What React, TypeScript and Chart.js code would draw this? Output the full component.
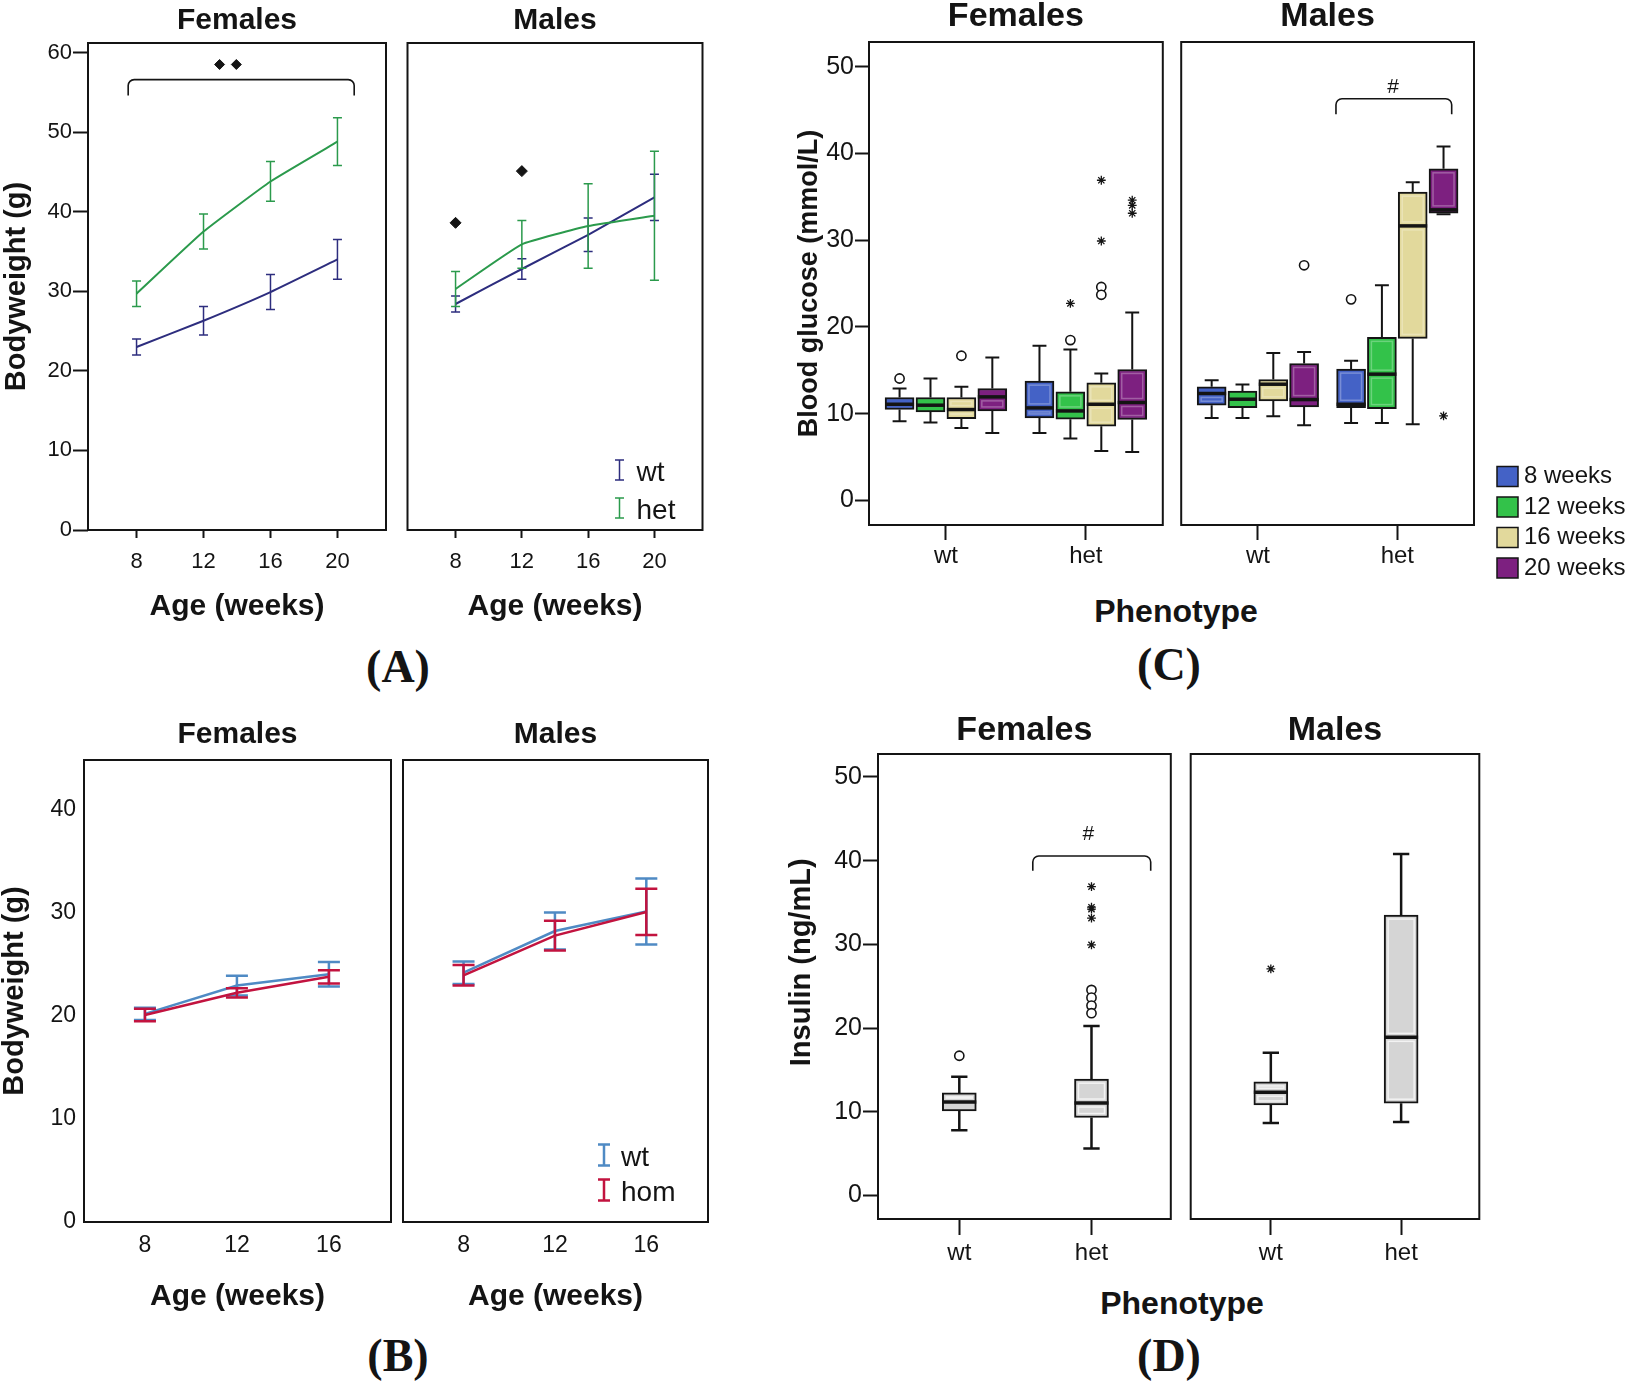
import React, { useEffect, useRef } from 'react';
import { Chart, registerables } from 'chart.js';

Chart.register(...registerables);

const SANS = "'Liberation Sans', Arial, Helvetica, sans-serif";
const SERIF = "'Liberation Serif', 'Times New Roman', Times, serif";
const INK = '#141414';
Chart.defaults.font.family = SANS;
Chart.defaults.color = INK;

// ---------------- (A) bodyweight wt vs het ----------------
const weeksA = [8, 12, 16, 20];
const bodyTicksA = [0, 10, 20, 30, 40, 50, 60];
const femWtA = [23.0, 26.3, 29.9, 34.0];
const femWtErrA = [1.0, 1.8, 2.2, 2.5];
const femHetA = [29.7, 37.5, 43.8, 48.8];
const femHetErrA = [1.6, 2.2, 2.5, 3.0];
const malWtA = [28.4, 32.8, 37.1, 41.8];
const malWtErrA = [1.0, 1.3, 2.1, 2.9];
const malHetA = [30.3, 35.9, 38.2, 39.5];
const malHetErrA = [2.2, 3.0, 5.3, 8.1];
const femMarkXA = [12.96, 13.96];
const femMarkYA = [58.5, 58.5];
const malMarkXA = [8, 12];
const malMarkYA = [38.6, 45.1];
const femBracketA = [7.5, 21.0, 56.6, 54.6]; // x1, x2, y, y of the ends
const seriesA = ['wt', 'het'];

// ---------------- (B) bodyweight wt vs hom ----------------
const weeksB = [8, 12, 16];
const bodyTicksB = [0, 10, 20, 30, 40];
const femWtB = [20.2, 22.95, 24.05];
const femWtErrB = [0.6, 0.95, 1.2];
const femHomB = [20.1, 22.25, 23.8];
const femHomErrB = [0.6, 0.45, 0.65];
const malWtB = [24.2, 28.25, 30.15];
const malWtErrB = [1.1, 1.8, 3.2];
const malHomB = [23.95, 27.8, 30.1];
const malHomErrB = [1.0, 1.45, 2.25];
const seriesB = ['wt', 'hom'];

// ---------------- (C) blood glucose ----------------
const phenotypes = ['wt', 'het'];
const weekNames = ['8 weeks', '12 weeks', '16 weeks', '20 weeks'];
const glucoseTicks = [0, 10, 20, 30, 40, 50];
// [lower whisker, Q1, median, Q3, upper whisker] for wt, then het
const gluFem8 = [[9.12, 10.47, 11.08, 11.86, 12.9], [7.77, 9.5, 10.66, 13.74, 17.82]];
const gluFem12 = [[8.97, 10.2, 10.97, 11.86, 14.05], [7.12, 9.35, 10.31, 12.51, 17.4]];
const gluFem16 = [[8.35, 9.43, 10.47, 11.86, 13.1], [5.7, 8.55, 11.08, 13.55, 14.63]];
const gluFem20 = [[7.77, 10.31, 11.93, 12.9, 16.47], [5.58, 9.32, 11.28, 15.09, 21.65]];
const gluMal8 = [[9.5, 10.97, 12.32, 13.09, 13.86], [8.93, 10.7, 11.08, 15.13, 16.09]];
const gluMal12 = [[9.5, 10.7, 11.66, 12.59, 13.36], [8.93, 10.58, 14.55, 18.79, 24.79]];
const gluMal16 = [[9.7, 11.47, 13.39, 13.93, 17.0], [8.78, 18.67, 31.64, 35.53, 36.68]];
const gluMal20 = [[8.66, 10.78, 11.62, 15.78, 17.09], [32.99, 33.1, 33.49, 38.22, 40.8]];
// outliers: [phenotype index, week index, value]
const gluFemCircles = [[0, 0, 14.05], [0, 2, 16.67], [1, 1, 18.48], [1, 2, 24.6], [1, 2, 23.7]];
const gluFemStars = [[1, 1, 22.7], [1, 2, 29.9], [1, 2, 36.9], [1, 3, 34.6], [1, 3, 34.0], [1, 3, 33.1]];
const gluMalCircles = [[0, 3, 27.1], [1, 0, 23.17]];
const gluMalStars = [[1, 3, 9.74]];
const gluMalBracket = [0.56, 1.39, 46.3, 44.5];
const gluMalHash = [0.97, 47.6];

// ---------------- (D) insulin ----------------
const insulinTicks = [0, 10, 20, 30, 40, 50];
const insFem = [[7.8, 10.1, 11.16, 12.26, 14.2], [5.63, 9.32, 11.05, 13.9, 20.26]];
const insMal = [[8.68, 10.82, 12.34, 13.57, 17.07], [8.8, 11.03, 18.9, 33.5, 40.8]];
// outliers: [phenotype index, value]
const insFemCircles = [[0, 16.7], [1, 24.56], [1, 23.64], [1, 22.69], [1, 21.78]];
const insFemStars = [[1, 36.9], [1, 34.44], [1, 34.2], [1, 33.13], [1, 29.94]];
const insMalStars = [[0, 27.07]];
const insFemBracket = [0.556, 1.448, 40.56, 38.8];
const insFemHash = [0.977, 43.2];

// ---------------- styles ----------------
const A_WT = '#2d2d7e';
const A_HET = '#2b9a4c';
const B_WT = '#4f8ac4';
const B_HOM = '#c2133f';
const WEEK_COLORS = ['#4462c6', '#33c24a', '#e2d99c', '#7d2080'];
const BOX_STEP_C = 0.221;
const NBSP = '\u00A0';

// ---------------- plugins ----------------
const framePlugin = {
  id: 'frame',
  afterDraw(chart: any) {
    const { ctx, chartArea: a } = chart;
    ctx.save();
    ctx.strokeStyle = INK;
    ctx.lineWidth = 2;
    ctx.strokeRect(a.left, a.top, a.right - a.left, a.bottom - a.top);
    ctx.restore();
  },
};

function errorBarPlugin(capHalf: number, lw: number) {
  return {
    id: 'errorBars',
    afterDatasetDraw(chart: any, args: any) {
      const ds = chart.data.datasets[args.index];
      if (!ds.errors) return;
      const { ctx } = chart;
      const ys = chart.scales.y;
      ctx.save();
      ctx.strokeStyle = ds.borderColor;
      ctx.lineWidth = lw;
      args.meta.data.forEach((pt: any, j: number) => {
        const v = ds.data[j].y;
        const e = ds.errors[j];
        const x = pt.x;
        const t = ys.getPixelForValue(v + e);
        const b = ys.getPixelForValue(v - e);
        ctx.beginPath();
        ctx.moveTo(x, t);
        ctx.lineTo(x, b);
        ctx.moveTo(x - capHalf, t);
        ctx.lineTo(x + capHalf, t);
        ctx.moveTo(x - capHalf, b);
        ctx.lineTo(x + capHalf, b);
        ctx.stroke();
      });
      ctx.restore();
    },
  };
}

function bracketPlugin(b: number[], hash?: number[]) {
  return {
    id: 'bracket',
    afterDatasetsDraw(chart: any) {
      const { ctx } = chart;
      const xs = chart.scales.x;
      const ys = chart.scales.y;
      const x1 = xs.getPixelForValue(b[0]);
      const x2 = xs.getPixelForValue(b[1]);
      const yt = ys.getPixelForValue(b[2]);
      const ye = ys.getPixelForValue(b[3]);
      const r = 6;
      ctx.save();
      ctx.strokeStyle = INK;
      ctx.lineWidth = 1.6;
      ctx.beginPath();
      ctx.moveTo(x1, ye);
      ctx.arcTo(x1, yt, x1 + r, yt, r);
      ctx.arcTo(x2, yt, x2, yt + r, r);
      ctx.lineTo(x2, ye);
      ctx.stroke();
      if (hash) {
        ctx.fillStyle = INK;
        ctx.font = `21px ${SANS}`;
        ctx.textAlign = 'center';
        ctx.textBaseline = 'middle';
        ctx.fillText('#', xs.getPixelForValue(hash[0]), ys.getPixelForValue(hash[1]));
      }
      ctx.restore();
    },
  };
}

function seriesLegendPlugin(labels: string[], colors: string[], o: any) {
  return {
    id: 'seriesLegend',
    afterDraw(chart: any) {
      const { ctx, chartArea: a } = chart;
      ctx.save();
      labels.forEach((lab, k) => {
        const cy = a.bottom + o.rows[k];
        const cx = a.left + o.iconDx;
        const iy = cy - 3;
        ctx.strokeStyle = colors[k];
        ctx.lineWidth = o.lw;
        ctx.beginPath();
        ctx.moveTo(cx, iy - o.iconH / 2);
        ctx.lineTo(cx, iy + o.iconH / 2);
        ctx.moveTo(cx - o.cap, iy - o.iconH / 2);
        ctx.lineTo(cx + o.cap, iy - o.iconH / 2);
        ctx.moveTo(cx - o.cap, iy + o.iconH / 2);
        ctx.lineTo(cx + o.cap, iy + o.iconH / 2);
        ctx.stroke();
        ctx.fillStyle = INK;
        ctx.font = `28px ${SANS}`;
        ctx.textAlign = 'left';
        ctx.textBaseline = 'middle';
        ctx.fillText(lab, a.left + o.textDx, cy);
      });
      ctx.restore();
    },
  };
}

const weekLegendPlugin = {
  id: 'weekLegend',
  afterDraw(chart: any) {
    const { ctx, chartArea: a } = chart;
    ctx.save();
    weekNames.forEach((name, w) => {
      const top = a.bottom - 58.5 + w * 30.5;
      const left = a.right + 23;
      ctx.fillStyle = WEEK_COLORS[w];
      ctx.fillRect(left, top, 21, 20);
      ctx.strokeStyle = INK;
      ctx.lineWidth = 1.5;
      ctx.strokeRect(left, top, 21, 20);
      ctx.fillStyle = INK;
      ctx.font = `24px ${SANS}`;
      ctx.textAlign = 'left';
      ctx.textBaseline = 'middle';
      ctx.fillText(name, left + 27, top + 10);
    });
    ctx.restore();
  },
};

const boxPlotPlugin = {
  id: 'boxWhiskers',
  beforeDatasetsDraw(chart: any) {
    const { ctx } = chart;
    const ys = chart.scales.y;
    chart.data.datasets.forEach((ds: any, i: number) => {
      if (!ds.boxStats) return;
      const meta = chart.getDatasetMeta(i);
      meta.data.forEach((bar: any, j: number) => {
        const s = ds.boxStats[j];
        const { x, width } = bar.getProps(['x', 'width'], true);
        const cap = width * 0.48;
        const lo = ys.getPixelForValue(s[0]);
        const q1 = ys.getPixelForValue(s[1]);
        const q3 = ys.getPixelForValue(s[3]);
        const hi = ys.getPixelForValue(s[4]);
        ctx.save();
        ctx.strokeStyle = INK;
        ctx.lineWidth = ds.whiskerWidth;
        ctx.beginPath();
        ctx.moveTo(x, q3);
        ctx.lineTo(x, hi);
        ctx.moveTo(x - cap / 2, hi);
        ctx.lineTo(x + cap / 2, hi);
        ctx.moveTo(x, q1);
        ctx.lineTo(x, lo);
        ctx.moveTo(x - cap / 2, lo);
        ctx.lineTo(x + cap / 2, lo);
        ctx.stroke();
        ctx.restore();
      });
    });
  },
  afterDatasetsDraw(chart: any) {
    const { ctx } = chart;
    const ys = chart.scales.y;
    chart.data.datasets.forEach((ds: any, i: number) => {
      if (!ds.boxStats) return;
      const meta = chart.getDatasetMeta(i);
      meta.data.forEach((bar: any, j: number) => {
        const s = ds.boxStats[j];
        const { x, width } = bar.getProps(['x', 'width'], true);
        const med = ys.getPixelForValue(s[2]);
        const q1 = ys.getPixelForValue(s[1]);
        const q3 = ys.getPixelForValue(s[3]);
        const inset = 4;
        const l = x - width / 2 + inset;
        const w = width - 2 * inset;
        ctx.save();
        ctx.strokeStyle = ds.innerLine;
        ctx.lineWidth = 1.5;
        if (med - q3 > 2 * inset + 1) ctx.strokeRect(l, q3 + inset, w, med - q3 - 2 * inset);
        if (q1 - med > 2 * inset + 1) ctx.strokeRect(l, med + inset, w, q1 - med - 2 * inset);
        ctx.strokeStyle = INK;
        ctx.lineWidth = 3.5;
        ctx.beginPath();
        ctx.moveTo(x - width / 2, med);
        ctx.lineTo(x + width / 2, med);
        ctx.stroke();
        ctx.restore();
      });
    });
  },
};

// ---------------- builders ----------------
function xAxis(o: any) {
  return {
    type: 'linear',
    min: o.min,
    max: o.max,
    offset: false,
    afterBuildTicks: (s: any) => {
      s.ticks = o.ticks.map((v: number) => ({ value: v }));
    },
    afterFit: (s: any) => {
      s.height = o.height;
    },
    grid: {
      display: o.tickLen > 0,
      drawOnChartArea: false,
      drawTicks: o.tickLen > 0,
      tickLength: o.tickLen,
      tickWidth: 2,
      tickColor: INK,
      offset: false,
    },
    border: { display: false },
    ticks: {
      autoSkip: false,
      maxRotation: 0,
      minRotation: 0,
      padding: o.pad,
      color: INK,
      font: { family: SANS, size: o.font },
      callback: (v: number) => (o.labels ? o.labels[v] ?? '' : String(v)),
    },
    title: o.title
      ? {
          display: true,
          text: o.title,
          color: INK,
          font: { family: SANS, size: 30, weight: 'bold', lineHeight: 1 },
          padding: { top: 0, bottom: o.titlePadBottom },
        }
      : { display: false },
  };
}

function yAxis(o: any) {
  const ax: any = {
    type: 'linear',
    min: o.min,
    max: o.max,
    display: o.show,
    afterBuildTicks: (s: any) => {
      s.ticks = o.ticks.map((v: number) => ({ value: v }));
    },
    grid: {
      display: o.tickLen > 0,
      drawOnChartArea: false,
      drawTicks: o.tickLen > 0,
      tickLength: o.tickLen,
      tickWidth: 2,
      tickColor: INK,
    },
    border: { display: false },
    ticks: {
      padding: o.pad,
      color: INK,
      font: { family: SANS, size: o.font },
      callback: (v: number) => String(v),
    },
    title: o.title
      ? {
          display: true,
          text: o.title,
          color: INK,
          font: { family: SANS, size: o.titleSize, weight: 'bold', lineHeight: 1 },
          padding: { top: o.titlePad, bottom: 0 },
        }
      : { display: false },
  };
  if (o.show) {
    ax.afterFit = (s: any) => {
      s.width = o.width;
    };
  }
  return ax;
}

function baseOptions(o: any) {
  return {
    responsive: false,
    animation: false,
    events: [],
    layout: { padding: { left: o.padL, right: o.padR, top: 0, bottom: 0 } },
    plugins: {
      legend: { display: false },
      tooltip: { enabled: false },
      title: {
        display: true,
        text: o.title,
        fullSize: false,
        color: INK,
        font: { family: SANS, size: o.titleSize, weight: 'bold', lineHeight: 1 },
        padding: { top: o.titlePad[0], bottom: o.titlePad[1] },
      },
    },
    scales: { x: o.x, y: o.y },
  };
}

function lineDs(label: string, xs: number[], ys: number[], errs: number[], color: string, width: number, order: number, tension: number) {
  return {
    type: 'line',
    label,
    data: xs.map((x, i) => ({ x, y: ys[i] })),
    errors: errs,
    borderColor: color,
    backgroundColor: color,
    borderWidth: width,
    pointRadius: 0,
    tension,
    order,
  };
}

function markerDs(xs: number[], ys: number[], r: number) {
  return {
    type: 'scatter',
    label: 'significance',
    data: xs.map((x, i) => ({ x, y: ys[i] })),
    pointStyle: 'rectRot',
    pointRadius: r,
    backgroundColor: INK,
    borderColor: INK,
    pointBackgroundColor: INK,
    pointBorderColor: INK,
    showLine: false,
    order: -1,
  };
}

function outlierDs(points: any[], style: string) {
  const circle = style === 'circle';
  return {
    type: 'scatter',
    label: style,
    data: points,
    pointStyle: style,
    pointRadius: circle ? 4.6 : 4.4,
    pointBorderWidth: circle ? 1.6 : 1.3,
    borderColor: INK,
    backgroundColor: circle ? '#ffffff' : INK,
    pointBorderColor: INK,
    pointBackgroundColor: circle ? '#ffffff' : INK,
    showLine: false,
    order: -1,
  };
}

function weekBoxDatasets(byWeek: number[][][]) {
  return byWeek.map((groups, w) => ({
    type: 'bar',
    label: weekNames[w],
    data: groups.map((s, g) => ({ x: g + (w - 1.5) * BOX_STEP_C, y: [s[1], s[3]] })),
    boxStats: groups,
    backgroundColor: WEEK_COLORS[w],
    borderColor: INK,
    borderWidth: 2,
    borderSkipped: false,
    barThickness: 29,
    grouped: false,
    innerLine: 'rgba(255,255,255,0.28)',
    whiskerWidth: 2,
    order: 1,
  }));
}

function grayBoxDataset(stats: number[][]) {
  return {
    type: 'bar',
    label: 'insulin',
    data: stats.map((s, g) => ({ x: g, y: [s[1], s[3]] })),
    boxStats: stats,
    backgroundColor: '#d5d5d5',
    borderColor: INK,
    borderWidth: 2,
    borderSkipped: false,
    barThickness: 34,
    grouped: false,
    innerLine: 'rgba(255,255,255,0.7)',
    whiskerWidth: 2.5,
    order: 1,
  };
}

const cPoint = (p: number[]) => ({ x: p[0] + (p[1] - 1.5) * BOX_STEP_C, y: p[2] });
const dPoint = (p: number[]) => ({ x: p[0], y: p[1] });

// ---------------- chart specs ----------------
const axisA = (showY: boolean) => ({
  x: xAxis({ min: 5.1, max: 22.9, ticks: weeksA, height: 100, tickLen: 8, pad: 11, font: 22, title: 'Age (weeks)', titlePadBottom: 8 }),
  y: yAxis({ min: 0, max: 61.2, ticks: bodyTicksA, show: showY, width: 88, tickLen: 15, pad: 1, font: 22, title: showY ? 'Bodyweight (g)' : '', titleSize: 29, titlePad: 2.5 }),
});
const axisB = (showY: boolean) => ({
  x: xAxis({ min: 5.35, max: 18.7, ticks: weeksB, height: 100, tickLen: 0, pad: 10, font: 23, title: 'Age (weeks)', titlePadBottom: 10 }),
  y: yAxis({ min: 0, max: 44.85, ticks: bodyTicksB, show: showY, width: 84, tickLen: 0, pad: 8, font: 23, title: showY ? 'Bodyweight (g)' : '', titleSize: 29, titlePad: 0 }),
});
const axisC = (showY: boolean) => ({
  x: xAxis({ min: -0.55, max: 1.55, ticks: [0, 1], labels: phenotypes, height: 65, tickLen: 15, pad: 2, font: 24 }),
  y: yAxis({ min: -2.84, max: 52.84, ticks: glucoseTicks, show: showY, width: 89, tickLen: 14, pad: 1, font: 25, title: showY ? 'Blood glucose (mmol/L)' : '', titleSize: 27, titlePad: 16.5 }),
});
const axisD = (showY: boolean) => ({
  x: xAxis({ min: -0.615, max: 1.6, ticks: [0, 1], labels: phenotypes, height: 65, tickLen: 16, pad: 3.6, font: 24 }),
  y: yAxis({ min: -2.8, max: 52.74, ticks: insulinTicks, show: showY, width: 98, tickLen: 15, pad: 1, font: 25, title: showY ? NBSP.repeat(6) + 'Insulin (ng/mL)' : '', titleSize: 29, titlePad: 7.5 }),
});

const specs: any[] = [
  {
    key: 'AF', left: 0, top: 0, width: 392, height: 630,
    build: () => ({
      type: 'line',
      data: {
        datasets: [
          lineDs(seriesA[0], weeksA, femWtA, femWtErrA, A_WT, 2, 1, 0.12),
          lineDs(seriesA[1], weeksA, femHetA, femHetErrA, A_HET, 2, 0, 0.12),
          markerDs(femMarkXA, femMarkYA, 5),
        ],
      },
      options: baseOptions({ padL: 0, padR: 2, title: 'Females', titleSize: 30, titlePad: [6, 7], ...axisA(true) }),
      plugins: [framePlugin, errorBarPlugin(4.5, 1.5), bracketPlugin(femBracketA)],
    }),
  },
  {
    key: 'AM', left: 401, top: 0, width: 308, height: 630,
    build: () => ({
      type: 'line',
      data: {
        datasets: [
          lineDs(seriesA[0], weeksA, malWtA, malWtErrA, A_WT, 2, 1, 0.12),
          lineDs(seriesA[1], weeksA, malHetA, malHetErrA, A_HET, 2, 0, 0.12),
          markerDs(malMarkXA, malMarkYA, 5.5),
        ],
      },
      options: baseOptions({ padL: 2, padR: 2, title: 'Males', titleSize: 30, titlePad: [6, 7], ...axisA(false) }),
      plugins: [
        framePlugin,
        errorBarPlugin(4.5, 1.5),
        seriesLegendPlugin(seriesA, [A_WT, A_HET], { iconDx: 212, textDx: 229, rows: [-57, -19], iconH: 20, cap: 4.5, lw: 1.5 }),
      ],
    }),
  },
  {
    key: 'BF', left: 0, top: 700, width: 393, height: 622,
    build: () => ({
      type: 'line',
      data: {
        datasets: [
          lineDs(seriesB[0], weeksB, femWtB, femWtErrB, B_WT, 2.5, 1, 0),
          lineDs(seriesB[1], weeksB, femHomB, femHomErrB, B_HOM, 2.5, 0, 0),
        ],
      },
      options: baseOptions({ padL: 0, padR: 2, title: 'Females', titleSize: 30, titlePad: [20, 10], ...axisB(true) }),
      plugins: [framePlugin, errorBarPlugin(11, 2.5)],
    }),
  },
  {
    key: 'BM', left: 401, top: 700, width: 309, height: 622,
    build: () => ({
      type: 'line',
      data: {
        datasets: [
          lineDs(seriesB[0], weeksB, malWtB, malWtErrB, B_WT, 2.5, 1, 0),
          lineDs(seriesB[1], weeksB, malHomB, malHomErrB, B_HOM, 2.5, 0, 0),
        ],
      },
      options: baseOptions({ padL: 2, padR: 2, title: 'Males', titleSize: 30, titlePad: [20, 10], ...axisB(false) }),
      plugins: [
        framePlugin,
        errorBarPlugin(11, 2.5),
        seriesLegendPlugin(seriesB, [B_WT, B_HOM], { iconDx: 201, textDx: 218, rows: [-64, -29], iconH: 21, cap: 6, lw: 2.5 }),
      ],
    }),
  },
  {
    key: 'CF', left: 780, top: 0, width: 389, height: 590,
    build: () => ({
      type: 'bar',
      data: {
        datasets: [
          ...weekBoxDatasets([gluFem8, gluFem12, gluFem16, gluFem20]),
          outlierDs(gluFemCircles.map(cPoint), 'circle'),
          outlierDs(gluFemStars.map(cPoint), 'star'),
        ],
      },
      options: baseOptions({ padL: 0, padR: 2, title: 'Females', titleSize: 34, titlePad: [0, 8], ...axisC(true) }),
      plugins: [framePlugin, boxPlotPlugin],
    }),
  },
  {
    key: 'CM', left: 1175, top: 0, width: 462, height: 590,
    build: () => ({
      type: 'bar',
      data: {
        datasets: [
          ...weekBoxDatasets([gluMal8, gluMal12, gluMal16, gluMal20]),
          outlierDs(gluMalCircles.map(cPoint), 'circle'),
          outlierDs(gluMalStars.map(cPoint), 'star'),
        ],
      },
      options: baseOptions({ padL: 2, padR: 163, title: 'Males', titleSize: 34, titlePad: [0, 8], ...axisC(false) }),
      plugins: [framePlugin, boxPlotPlugin, bracketPlugin(gluMalBracket, gluMalHash), weekLegendPlugin],
    }),
  },
  {
    key: 'DF', left: 780, top: 700, width: 397, height: 584,
    build: () => ({
      type: 'bar',
      data: {
        datasets: [
          grayBoxDataset(insFem),
          outlierDs(insFemCircles.map(dPoint), 'circle'),
          outlierDs(insFemStars.map(dPoint), 'star'),
        ],
      },
      options: baseOptions({ padL: 0, padR: 2, title: 'Females', titleSize: 34, titlePad: [14, 6], ...axisD(true) }),
      plugins: [framePlugin, boxPlotPlugin, bracketPlugin(insFemBracket, insFemHash)],
    }),
  },
  {
    key: 'DM', left: 1185, top: 700, width: 300, height: 584,
    build: () => ({
      type: 'bar',
      data: {
        datasets: [grayBoxDataset(insMal), outlierDs(insMalStars.map(dPoint), 'star')],
      },
      options: baseOptions({ padL: 2, padR: 2, title: 'Males', titleSize: 34, titlePad: [14, 6], ...axisD(false) }),
      plugins: [framePlugin, boxPlotPlugin],
    }),
  },
];

function ChartBox({ left, top, width, height, build }: any) {
  const ref = useRef<HTMLCanvasElement | null>(null);
  useEffect(() => {
    if (!ref.current) return;
    const chart = new Chart(ref.current, build());
    return () => chart.destroy();
  }, []);
  return (
    <canvas
      ref={ref}
      width={width}
      height={height}
      style={{ position: 'absolute', left, top, width, height, display: 'block' }}
    />
  );
}

function Label({ x, y, text, size, bold, family }: any) {
  return (
    <div
      style={{
        position: 'absolute',
        left: x,
        top: y,
        transform: 'translate(-50%, -50%)',
        fontFamily: family,
        fontSize: size,
        fontWeight: bold ? 'bold' : 'normal',
        lineHeight: 1,
        whiteSpace: 'nowrap',
        color: INK,
      }}
    >
      {text}
    </div>
  );
}

export default function App() {
  return (
    <div
      style={{
        position: 'absolute',
        left: 0,
        top: 0,
        width: 1637,
        height: 1390,
        background: '#ffffff',
        overflow: 'hidden',
      }}
    >
      {specs.map((s) => (
        <ChartBox key={s.key} {...s} />
      ))}
      <Label x={1176} y={611} text="Phenotype" size={32} bold family={SANS} />
      <Label x={1182} y={1303} text="Phenotype" size={32} bold family={SANS} />
      <Label x={398} y={667} text="(A)" size={46} bold family={SERIF} />
      <Label x={398} y={1356} text="(B)" size={46} bold family={SERIF} />
      <Label x={1169} y={665} text="(C)" size={46} bold family={SERIF} />
      <Label x={1169} y={1356} text="(D)" size={46} bold family={SERIF} />
    </div>
  );
}
